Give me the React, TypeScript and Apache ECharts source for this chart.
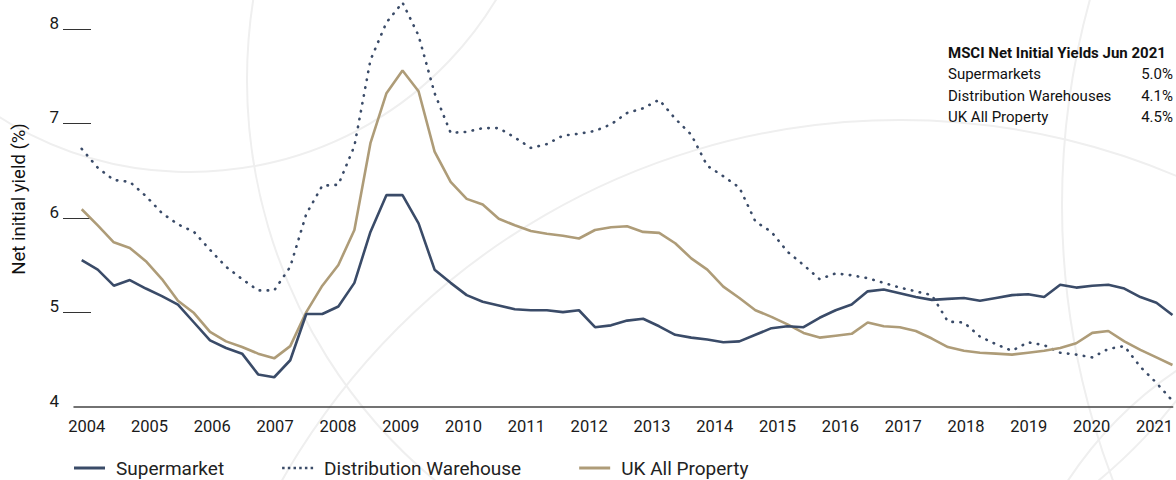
import React, { useEffect, useRef } from "react";
import * as echarts from "echarts";

// Tick labels
const yearLabels = [2004, 2005, 2006, 2007, 2008, 2009, 2010, 2011, 2012, 2013, 2014, 2015, 2016, 2017, 2018, 2019, 2020, 2021];
const yTickValues = [4, 5, 6, 7, 8];

// Quarterly series, 2004 Q1 onwards (index = quarter number)
const supermarket = [
  5.55, 5.45, 5.28, 5.34, 5.25, 5.17, 5.08, 4.89, 4.70, 4.62,
  4.56, 4.34, 4.31, 4.49, 4.98, 4.98, 5.06, 5.31, 5.85, 6.24,
  6.24, 5.94, 5.45, 5.31, 5.18, 5.11, 5.07, 5.03, 5.02, 5.02,
  5.00, 5.02, 4.84, 4.86, 4.91, 4.93, 4.85, 4.76, 4.73, 4.71,
  4.68, 4.69, 4.76, 4.83, 4.85, 4.84, 4.94, 5.02, 5.08, 5.22,
  5.24, 5.20, 5.16, 5.13, 5.14, 5.15, 5.12, 5.15, 5.18, 5.19,
  5.16, 5.29, 5.26, 5.28, 5.29, 5.25, 5.16, 5.10, 4.97,
];
const distribution = [
  6.73, 6.53, 6.40, 6.38, 6.23, 6.05, 5.93, 5.85, 5.66, 5.48,
  5.35, 5.23, 5.23, 5.48, 6.04, 6.34, 6.35, 6.76, 7.67, 8.07,
  8.28, 7.93, 7.32, 6.90, 6.91, 6.95, 6.95, 6.85, 6.74, 6.78,
  6.87, 6.89, 6.92, 6.99, 7.11, 7.16, 7.25, 7.05, 6.88, 6.55,
  6.44, 6.32, 5.96, 5.85, 5.64, 5.50, 5.35, 5.41, 5.39, 5.36,
  5.31, 5.26, 5.22, 5.18, 4.90, 4.89, 4.74, 4.66, 4.59, 4.68,
  4.65, 4.57, 4.55, 4.52, 4.61, 4.64, 4.42, 4.25, 4.06,
];
const ukAllProperty = [
  6.09, 5.92, 5.74, 5.68, 5.54, 5.35, 5.12, 4.99, 4.79, 4.69,
  4.63, 4.56, 4.51, 4.64, 5.00, 5.28, 5.50, 5.87, 6.79, 7.32,
  7.56, 7.34, 6.70, 6.38, 6.20, 6.14, 5.99, 5.92, 5.86, 5.83,
  5.81, 5.78, 5.87, 5.90, 5.91, 5.85, 5.84, 5.73, 5.57, 5.45,
  5.27, 5.15, 5.02, 4.95, 4.87, 4.78, 4.73, 4.75, 4.77, 4.89,
  4.85, 4.84, 4.80, 4.72, 4.63, 4.59, 4.57, 4.56, 4.55, 4.57,
  4.59, 4.62, 4.67, 4.78, 4.80, 4.69, 4.60, 4.52, 4.44,
];

const seriesNames = ["Supermarket", "Distribution Warehouse", "UK All Property"];
const summaryTitle = "MSCI Net Initial Yields Jun 2021";
const summaryLabels = ["Supermarkets", "Distribution Warehouses", "UK All Property"];
const summaryValues = ["5.0%", "4.1%", "4.5%"];

const NAVY = "#3a4b68";
const TAN = "#ae9c78";
const SANS = "Roboto, 'Noto Sans', sans-serif";
const DOTS_ICON =
  "path://M0,0h2.5v2.5h-2.5zM5.7,0h2.5v2.5h-2.5zM11.4,0h2.5v2.5h-2.5zM17.1,0h2.5v2.5h-2.5zM22.8,0h2.5v2.5h-2.5zM28.5,0h2.5v2.5h-2.5z";

const toXY = (arr: number[]) => arr.map((v, i) => [i, v]);

export default function App() {
  const ref = useRef<HTMLDivElement>(null);

  useEffect(() => {
    if (!ref.current) return;
    const chart = echarts.init(ref.current, null, { renderer: "svg" });

    const arcs = [
      { cx: 190, cy: -186, r: 358 },
      { cx: 900, cy: 830, r: 710 },
      { cx: 1832, cy: 205, r: 770 },
      { cx: 767, cy: 80, r: 520 },
      { cx: 1400, cy: 700, r: 398 },
    ].map((c) => ({
      type: "circle",
      silent: true,
      z: -10,
      shape: c,
      style: { fill: "none", stroke: "#efefef", lineWidth: 2 },
    }));

    const summary: any[] = [
      {
        type: "text",
        x: 948,
        y: 53,
        style: { text: summaryTitle, font: `bold 15px ${SANS}`, fill: "#111", textVerticalAlign: "middle", textAlign: "left" },
      },
    ];
    summaryLabels.forEach((lab, i) => {
      summary.push({
        type: "text",
        x: 948,
        y: 74 + i * 21.7,
        style: { text: lab, font: `15px ${SANS}`, fill: "#111", textVerticalAlign: "middle", textAlign: "left" },
      });
      summary.push({
        type: "text",
        x: 1173,
        y: 74 + i * 21.7,
        style: { text: summaryValues[i], font: `15px ${SANS}`, fill: "#111", textVerticalAlign: "middle", textAlign: "right" },
      });
    });

    chart.setOption({
      animation: false,
      backgroundColor: "#ffffff",
      grid: [
        { left: 63, right: 0, top: 29, bottom: 73.5, containLabel: false },
        { left: 74, right: 0, top: 29, bottom: 73.5, containLabel: false },
        { left: 63, width: 28, top: 29, bottom: 73.5, containLabel: false },
      ],
      graphic: [
        ...arcs,
        {
          type: "text",
          x: 19,
          y: 199,
          rotation: Math.PI / 2,
          style: {
            text: "Net initial yield (%)",
            font: `18.5px ${SANS}`,
            fill: "#111",
            textAlign: "center",
            textVerticalAlign: "middle",
          },
        },
        ...summary,
      ],
      legend: {
        left: 69,
        top: 453,
        itemWidth: 31,
        itemHeight: 3,
        itemGap: 58,
        textStyle: { fontFamily: SANS, fontSize: 19, lineHeight: 20, color: "#222", padding: [0, 0, 0, 6] },
        data: [
          { name: seriesNames[0], icon: "rect" },
          { name: seriesNames[1], icon: DOTS_ICON },
          { name: seriesNames[2], icon: "rect" },
        ],
      },
      xAxis: [
        {
          type: "value",
          gridIndex: 0,
          min: -1.166,
          max: 68.22,
          position: "bottom",
          axisLine: { show: false, onZero: false },
          axisTick: { show: false },
          axisLabel: { show: false },
          splitLine: { show: false },
        },
        {
          type: "value",
          gridIndex: 1,
          min: 2003.798,
          max: 2021.29,
          position: "bottom",
          axisLine: { show: true, onZero: false, lineStyle: { color: "#444", width: 1.5 } },
          axisTick: { show: false },
          splitLine: { show: false },
          axisLabel: {
            customValues: yearLabels,
            formatter: (v: number) => String(Math.round(v)),
            fontFamily: SANS,
            fontSize: 16.5,
            color: "#1a1a1a",
            margin: 11,
          },
        },
        {
          type: "value",
          gridIndex: 2,
          min: 0,
          max: 1,
          show: false,
          splitLine: { show: false },
        },
      ],
      yAxis: [
        {
          type: "value",
          gridIndex: 0,
          min: 4,
          max: 8,
          interval: 1,
          position: "left",
          axisLine: { show: false },
          axisTick: { show: false },
          axisLabel: {
            customValues: yTickValues,
            fontFamily: SANS,
            fontSize: 17,
            color: "#1a1a1a",
            margin: 4,
            verticalAlign: "bottom",
            lineHeight: 12,
          },
          splitLine: { show: false },
        },
        {
          type: "value",
          gridIndex: 1,
          min: 0,
          max: 1,
          show: false,
          splitLine: { show: false },
        },
        {
          type: "value",
          gridIndex: 2,
          min: 4,
          max: 8,
          interval: 1,
          axisLine: { show: false },
          axisTick: { show: false },
          axisLabel: { show: false },
          splitLine: {
            show: true,
            showMinLine: false,
            showMaxLine: true,
            lineStyle: { color: "#333", width: 1 },
          },
        },
      ],
      series: [
        {
          name: seriesNames[0],
          type: "line",
          xAxisIndex: 0,
          yAxisIndex: 0,
          data: toXY(supermarket),
          symbol: "none",
          clip: false,
          z: 3,
          lineStyle: { color: NAVY, width: 2.6 },
          itemStyle: { color: NAVY },
        },
        {
          name: seriesNames[1],
          type: "line",
          xAxisIndex: 0,
          yAxisIndex: 0,
          data: toXY(distribution),
          symbol: "none",
          clip: false,
          z: 2,
          lineStyle: { color: NAVY, width: 2.6, type: [0.5, 7.5], cap: "round" },
          itemStyle: { color: NAVY },
        },
        {
          name: seriesNames[2],
          type: "line",
          xAxisIndex: 0,
          yAxisIndex: 0,
          data: toXY(ukAllProperty),
          symbol: "none",
          clip: false,
          z: 2,
          lineStyle: { color: TAN, width: 2.6 },
          itemStyle: { color: TAN },
        },
      ],
    });

    return () => chart.dispose();
  }, []);

  return (
    <div
      ref={ref}
      style={{ position: "absolute", left: 0, top: 0, width: 1176, height: 480 }}
    />
  );
}
